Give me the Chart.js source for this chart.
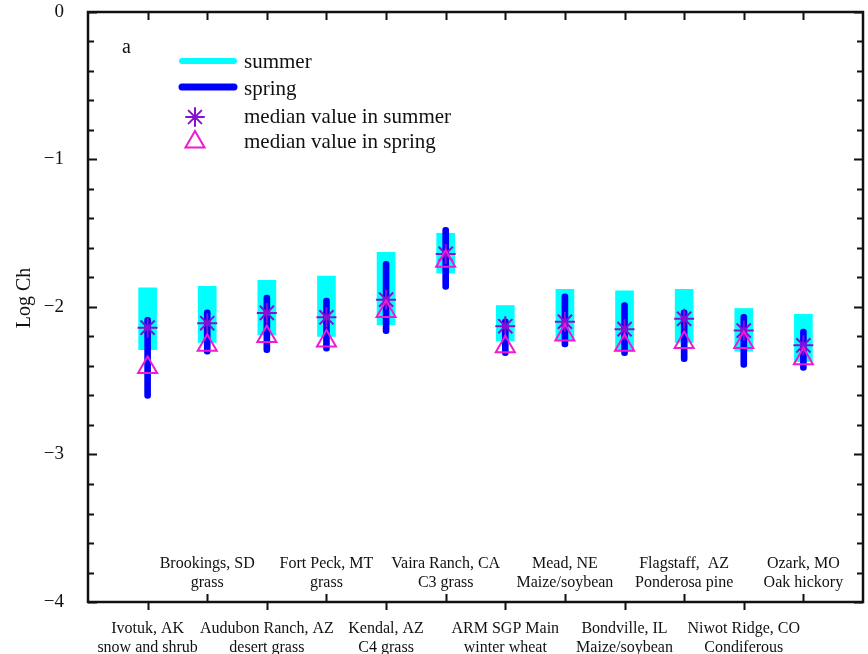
<!DOCTYPE html>
<html>
<head>
<meta charset="utf-8">
<script src="https://cdn.jsdelivr.net/npm/chart.js@4/dist/chart.umd.min.js"></script>
<style>
  body { margin: 0; background: #fff; }
  canvas { display: block; }
</style>
</head>
<body>
<canvas id="logCh" width="868" height="654"></canvas>
<script>
// site names (first line) and land cover (second line)
const sites = ["Ivotuk, AK", "Brookings, SD", "Audubon Ranch, AZ", "Fort Peck, MT", "Kendal, AZ",
  "Vaira Ranch, CA", "ARM SGP Main", "Mead, NE", "Bondville, IL", "Flagstaff,  AZ",
  "Niwot Ridge, CO", "Ozark, MO"];
const covers = ["snow and shrub", "grass", "desert grass", "grass", "C4 grass", "C3 grass",
  "winter wheat", "Maize/soybean", "Maize/soybean", "Ponderosa pine", "Condiferous", "Oak hickory"];

// Log Ch ranges
const summerLow  = [-2.29, -2.24, -2.19, -2.20, -2.12, -1.77, -2.23, -2.22, -2.30, -2.24, -2.30, -2.37];
const summerHigh = [-1.87, -1.86, -1.82, -1.79, -1.63, -1.50, -1.99, -1.88, -1.89, -1.88, -2.01, -2.05];
const springLow  = [-2.62, -2.32, -2.31, -2.30, -2.18, -1.88, -2.33, -2.27, -2.33, -2.37, -2.41, -2.43];
const springHigh = [-2.07, -2.02, -1.92, -1.94, -1.69, -1.46, -2.08, -1.91, -1.97, -2.02, -2.05, -2.15];
const summerMedian = [-2.14, -2.11, -2.04, -2.07, -1.95, -1.64, -2.13, -2.10, -2.15, -2.08, -2.16, -2.26];
const springMedian = [-2.41, -2.26, -2.20, -2.23, -2.03, -1.69, -2.27, -2.19, -2.26, -2.24, -2.24, -2.35];

const yMin = -4, yMax = 0, yStep = 0.2;

const SERIF = "'Liberation Serif', 'Times New Roman', serif";
const CYAN = "#00ffff", BLUE = "#0000ff", VIOLET = "#8a10d0", MAGENTA = "#f01ad2";

const pos = sites.map((s, i) => i + 1);

function minus(v) {
  if (Math.abs(v - Math.round(v)) > 1e-6) return "";
  const r = Math.round(v);
  return r < 0 ? "\u2212" + Math.abs(r) : String(r);
}

// frame, inward ticks, category labels, legend
const decor = {
  id: "decor",
  afterDraw(chart) {
    const { ctx, chartArea: a, scales: { x, y } } = chart;
    ctx.save();
    ctx.strokeStyle = "#111";
    ctx.fillStyle = "#111";

    // y ticks, both sides
    ctx.lineWidth = 2;
    for (let v = yMin; v <= yMax + 1e-6; v += yStep) {
      const py = Math.round(y.getPixelForValue(v)) + 0.5;
      const major = Math.abs(v - Math.round(v)) < 1e-6;
      const len = major ? 9 : 6;
      ctx.beginPath();
      ctx.moveTo(a.left, py); ctx.lineTo(a.left + len, py);
      ctx.moveTo(a.right, py); ctx.lineTo(a.right - len, py);
      ctx.stroke();
    }

    // x ticks: top all inward, bottom alternate down / up
    pos.forEach((p, i) => {
      const px = Math.round(x.getPixelForValue(p)) + 0.5;
      ctx.beginPath();
      ctx.moveTo(px, a.top); ctx.lineTo(px, a.top + 8);
      if (i % 2 === 0) { ctx.moveTo(px, a.bottom); ctx.lineTo(px, a.bottom + 8); }
      else { ctx.moveTo(px, a.bottom); ctx.lineTo(px, a.bottom - 8); }
      ctx.stroke();
    });

    // frame
    ctx.lineWidth = 2.5;
    ctx.strokeRect(a.left, a.top, a.right - a.left, a.bottom - a.top);

    // category labels
    ctx.font = "16px " + SERIF;
    ctx.textAlign = "center";
    ctx.textBaseline = "alphabetic";
    pos.forEach((p, i) => {
      const px = x.getPixelForValue(p);
      if (i % 2 === 0) {
        ctx.fillText(sites[i], px, a.bottom + 31);
        ctx.fillText(covers[i], px, a.bottom + 50);
      } else {
        ctx.fillText(sites[i], px, a.bottom - 34);
        ctx.fillText(covers[i], px, a.bottom - 15);
      }
    });

    // y title
    ctx.font = "20px " + SERIF;
    ctx.save();
    ctx.translate(25, (a.top + a.bottom) / 2 - 9);
    ctx.rotate(-Math.PI / 2);
    ctx.textBaseline = "middle";
    ctx.fillText("Log Ch", 0, 0);
    ctx.restore();

    // panel letter
    ctx.textAlign = "left";
    ctx.fillText("a", a.left + 34, a.top + 41);

    // legend
    const lx = a.left + 94, tx = a.left + 156;
    ctx.lineCap = "round";
    ctx.strokeStyle = CYAN; ctx.lineWidth = 6;
    ctx.beginPath(); ctx.moveTo(lx, a.top + 49); ctx.lineTo(lx + 52, a.top + 49); ctx.stroke();
    ctx.strokeStyle = BLUE; ctx.lineWidth = 7;
    ctx.beginPath(); ctx.moveTo(lx, a.top + 75); ctx.lineTo(lx + 52, a.top + 75); ctx.stroke();
    ctx.strokeStyle = VIOLET; ctx.lineWidth = 2;
    Chart.helpers.drawPoint(ctx, { pointStyle: "star", radius: 9, borderWidth: 2 }, lx + 13, a.top + 105);
    ctx.strokeStyle = MAGENTA;
    ctx.fillStyle = "rgba(0,0,0,0)";
    Chart.helpers.drawPoint(ctx, { pointStyle: "triangle", radius: 11, borderWidth: 2 }, lx + 13, a.top + 130);
    ctx.fillStyle = "#111";
    ctx.font = "21px " + SERIF;
    ctx.fillText("summer", tx, a.top + 56);
    ctx.fillText("spring", tx, a.top + 83);
    ctx.fillText("median value in summer", tx, a.top + 111);
    ctx.fillText("median value in spring", tx, a.top + 136);
    ctx.restore();
  }
};

new Chart(document.getElementById("logCh"), {
  type: "bar",
  data: {
    datasets: [
      {
        label: "median value in spring",
        type: "scatter",
        data: pos.map((p, i) => ({ x: p, y: springMedian[i] })),
        pointStyle: "triangle",
        radius: 11,
        borderWidth: 2,
        borderColor: MAGENTA,
        backgroundColor: "rgba(0,0,0,0)",
        order: 0
      },
      {
        label: "median value in summer",
        type: "scatter",
        data: pos.map((p, i) => ({ x: p, y: summerMedian[i] })),
        pointStyle: "star",
        radius: 10,
        borderWidth: 2,
        borderColor: VIOLET,
        backgroundColor: VIOLET,
        order: 1
      },
      {
        label: "spring",
        data: pos.map((p, i) => ({ x: p, y: [springLow[i], springHigh[i]] })),
        backgroundColor: BLUE,
        barThickness: 6,
        borderRadius: 3,
        borderSkipped: false,
        grouped: false,
        order: 2
      },
      {
        label: "summer",
        data: pos.map((p, i) => ({ x: p, y: [summerLow[i], summerHigh[i]] })),
        backgroundColor: CYAN,
        barThickness: 18,
        grouped: false,
        order: 3
      }
    ]
  },
  options: {
    responsive: false,
    devicePixelRatio: 1,
    animation: false,
    events: [],
    layout: { autoPadding: false, padding: { left: 0, right: 5, top: 12, bottom: 0 } },
    plugins: { legend: { display: false }, tooltip: { enabled: false } },
    scales: {
      x: {
        type: "linear",
        min: 0,
        max: pos.length + 1,
        offset: false,
        grid: { display: false },
        border: { display: false },
        ticks: { display: false },
        afterFit: s => { s.height = 52; s.paddingLeft = 0; s.paddingRight = 0; }
      },
      y: {
        min: yMin,
        max: yMax,
        grid: { display: false },
        border: { display: false },
        ticks: {
          stepSize: yStep,
          autoSkip: false,
          padding: 16,
          color: "#111",
          font: { family: SERIF, size: 19 },
          callback: v => minus(v)
        },
        afterFit: s => { s.width = 88; s.paddingTop = 0; s.paddingBottom = 0; }
      }
    }
  },
  plugins: [decor]
});
</script>
</body>
</html>
